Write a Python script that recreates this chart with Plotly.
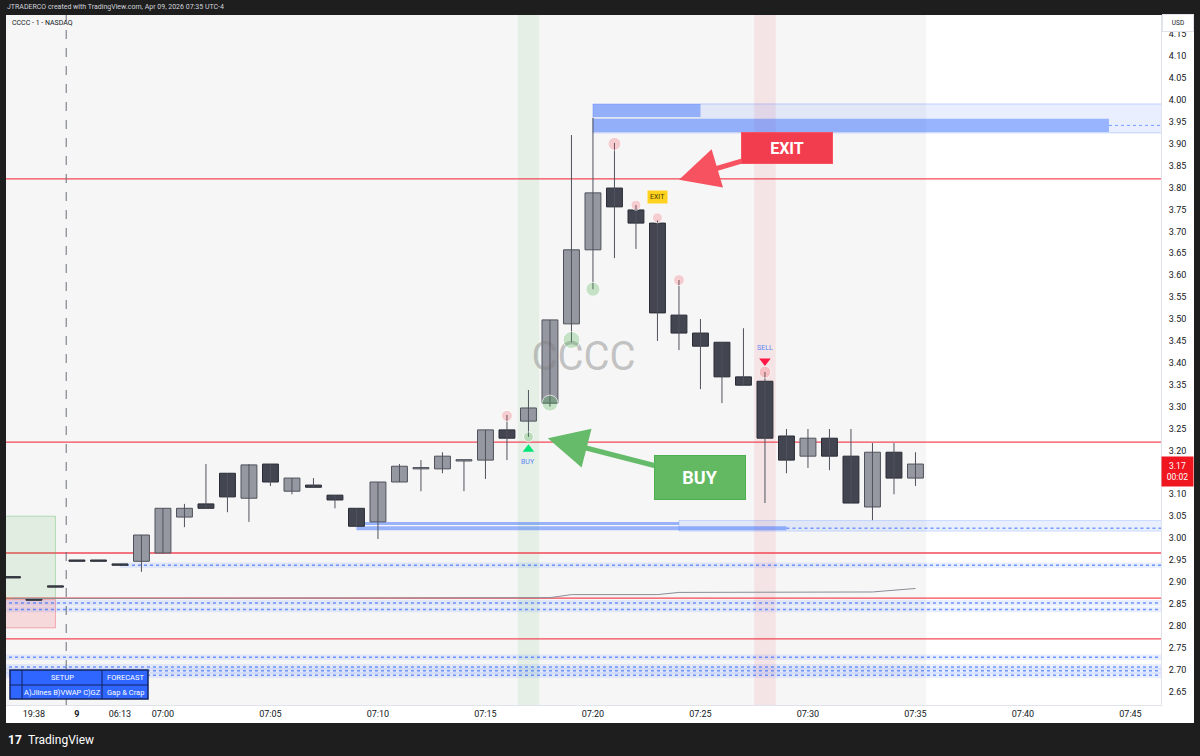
import plotly.graph_objects as go

# ---------------- data ----------------
bar_index = list(range(-7, 36))
opens = [2.909, 2.858, 2.888, 2.947, 2.947, 2.938, 2.947, 2.966, 3.048, 3.078, 3.148, 3.091, 3.169,
         3.107, 3.121, 3.098, 3.068, 3.037, 3.128, 3.158, 3.158, 3.176, 3.178, 3.247, 3.267, 3.308,
         3.489, 3.658, 3.799, 3.749, 3.719, 3.509, 3.468, 3.447, 3.368, 3.358, 3.233, 3.187, 3.228,
         3.187, 3.071, 3.196, 3.137]
highs = [2.909, 2.858, 2.888, 2.947, 2.947, 2.938, 3.007, 3.068, 3.078, 3.169, 3.148, 3.169, 3.169,
         3.137, 3.137, 3.098, 3.068, 3.128, 3.169, 3.178, 3.196, 3.176, 3.247, 3.281, 3.338, 3.498,
         3.920, 3.959, 3.902, 3.760, 3.725, 3.589, 3.500, 3.447, 3.479, 3.379, 3.249, 3.249, 3.249,
         3.249, 3.217, 3.217, 3.196]
lows = [2.909, 2.858, 2.888, 2.947, 2.947, 2.938, 2.923, 2.966, 3.025, 3.068, 3.059, 3.037, 3.119,
        3.100, 3.116, 3.068, 3.027, 2.998, 3.128, 3.107, 3.148, 3.107, 3.135, 3.178, 3.231, 3.300,
        3.447, 3.568, 3.639, 3.660, 3.450, 3.429, 3.340, 3.308, 3.349, 3.080, 3.148, 3.160, 3.155,
        3.080, 3.041, 3.100, 3.119]
closes = [2.909, 2.858, 2.888, 2.947, 2.947, 2.938, 3.007, 3.068, 3.068, 3.068, 3.094, 3.167, 3.128,
          3.137, 3.116, 3.087, 3.027, 3.128, 3.164, 3.158, 3.187, 3.176, 3.247, 3.228, 3.297, 3.498,
          3.658, 3.788, 3.756, 3.719, 3.514, 3.468, 3.438, 3.368, 3.349, 3.228, 3.178, 3.228, 3.187,
          3.080, 3.196, 3.137, 3.169]

tick_index = [-6, -4, -2, 0, 5, 10, 15, 20, 25, 30, 35, 40, 45]
tick_labels = ["19:38", "<b>9</b>", "06:13", "07:00", "07:05", "07:10", "07:15", "07:20",
               "07:25", "07:30", "07:35", "07:40", "07:45"]
price_ticks = [2.65, 2.70, 2.75, 2.80, 2.85, 2.90, 2.95, 3.00, 3.05, 3.10, 3.15, 3.20, 3.25, 3.30,
               3.35, 3.40, 3.45, 3.50, 3.55, 3.60, 3.65, 3.70, 3.75, 3.80, 3.85, 3.90, 3.95, 4.00,
               4.05, 4.10, 4.15]

pink_idx = [16, 21, 22, 23, 24, 28]
pink_price = [3.279, 3.900, 3.760, 3.731, 3.589, 3.379]
pink_size = [11, 13, 10, 10, 11, 12]
green_idx = [17, 18, 19, 20]
green_price = [3.231, 3.308, 3.452, 3.568]
green_size = [10, 16, 17, 14]

buy_idx, buy_price, buy_text_price = 17, 3.203, 3.174
sell_idx, sell_price, sell_text_price = 28, 3.404, 3.434
exit_idx, exit_price = 23, 3.779

red_levels = [3.820, 3.219, 2.966, 2.863, 2.770]
blue_levels = [2.938, 2.852, 2.837, 2.728, 2.706, 2.697, 2.687]
blue_start = [-2, -8, -8, -8, -8, -8, -8]

vwap_idx = [-7, 18, 19, 23, 24, 33, 35]
vwap_val = [2.862, 2.864, 2.871, 2.871, 2.876, 2.877, 2.885]

supply_outer = (20, 3.925, 3.991)
supply_bar1 = (20, 25, 3.961, 3.991)
supply_bar2 = (20, 44, 3.927, 3.957)
support_bar1 = (9, 24, 3.030, 3.037)
support_bar2 = (9, 29, 3.018, 3.027)
support_band = (3.016, 3.040)

left_green = (-5.0, 2.862, 3.050)
left_pink = (-5.0, 2.795, 2.860)

last_price = 3.17
session_end = 35.5
day_break = -4.5

# ---------------- geometry helpers ----------------
W, H = 1200, 756
PL, PR, PT, PB = 6, 1161, 15, 705
XR = [-7.30, 46.42]
YR = [2.619, 4.194]


def px(x):
    return (x - PL) / (PR - PL)


def py(y):
    return (PB - y) / (PB - PT)


FONT = "Roboto"
fig = go.Figure()

# watermark (behind candles)
fig.add_trace(go.Scatter(x=[(XR[0] + XR[1]) / 2], y=[(YR[0] + YR[1]) / 2], mode="text",
                         text=["CCCC"], textfont=dict(size=40, color="rgba(128,128,128,0.45)", family=FONT),
                         hoverinfo="skip"))

# vwap-like line
fig.add_trace(go.Scatter(x=vwap_idx, y=vwap_val, mode="lines",
                         line=dict(color="#8a8d96", width=1), hoverinfo="skip"))

# wicks
wx, wy = [], []
for i, h, l in zip(bar_index, highs, lows):
    if h > l:
        wx += [i, i, None]
        wy += [l, h, None]
fig.add_trace(go.Scatter(x=wx, y=wy, mode="lines", line=dict(color="#50535e", width=1), hoverinfo="skip"))

# bodies
base, height, fill, edge = [], [], [], []
for i, o, c in zip(bar_index, opens, closes):
    base.append(min(o, c))
    height.append(max(abs(c - o), 0.003))
    if c > o or (c == o and i >= -1):
        fill.append("#9598a1")
        edge.append("#4f525c")
    else:
        fill.append("#434651")
        edge.append("#2a2d36")
fig.add_trace(go.Bar(x=bar_index, y=height, base=base, width=0.74,
                     marker=dict(color=fill, line=dict(color=edge, width=1)), hoverinfo="skip"))

# pivot dots
fig.add_trace(go.Scatter(x=pink_idx, y=pink_price, mode="markers",
                         marker=dict(size=pink_size, color="rgba(242,54,69,0.3)"), hoverinfo="skip"))
fig.add_trace(go.Scatter(x=green_idx, y=green_price, mode="markers",
                         marker=dict(size=green_size, color="rgba(76,175,80,0.4)"), hoverinfo="skip"))

# buy / sell triangles
fig.add_trace(go.Scatter(x=[buy_idx], y=[buy_price], mode="markers",
                         marker=dict(symbol="triangle-up", size=10, color="#00e676"), hoverinfo="skip"))
fig.add_trace(go.Scatter(x=[sell_idx], y=[sell_price], mode="markers",
                         marker=dict(symbol="triangle-down", size=10, color="#ff1744"), hoverinfo="skip"))

shapes = []
# white panel
shapes.append(dict(type="rect", xref="paper", yref="paper", x0=px(6), x1=px(1194), y0=py(723), y1=py(15),
                   fillcolor="white", line=dict(width=0), layer="below"))
# session background
shapes.append(dict(type="rect", xref="x", yref="paper", x0=XR[0] - 1, x1=session_end, y0=0, y1=1,
                   fillcolor="#f6f6f6", line=dict(width=0), layer="below"))
# signal columns
shapes.append(dict(type="rect", xref="x", yref="paper", x0=buy_idx - 0.5, x1=buy_idx + 0.5, y0=0, y1=1,
                   fillcolor="rgba(76,175,80,0.09)", line=dict(width=0), layer="below"))
shapes.append(dict(type="rect", xref="x", yref="paper", x0=sell_idx - 0.5, x1=sell_idx + 0.5, y0=0, y1=1,
                   fillcolor="rgba(242,54,69,0.09)", line=dict(width=0), layer="below"))
# left boxes
shapes.append(dict(type="rect", xref="x", yref="y", x0=XR[0] - 1, x1=left_green[0], y0=left_green[1],
                   y1=left_green[2], fillcolor="rgba(76,175,80,0.13)",
                   line=dict(color="rgba(76,175,80,0.35)", width=1), layer="below"))
shapes.append(dict(type="rect", xref="x", yref="y", x0=XR[0] - 1, x1=left_pink[0], y0=left_pink[1],
                   y1=left_pink[2], fillcolor="rgba(242,54,69,0.15)",
                   line=dict(color="rgba(242,54,69,0.35)", width=1), layer="below"))
# blue levels
for lv, st in zip(blue_levels, blue_start):
    shapes.append(dict(type="rect", xref="x", yref="y", x0=st, x1=XR[1] + 1, y0=lv - 0.0065, y1=lv + 0.0065,
                       fillcolor="rgba(41,98,255,0.10)", line=dict(width=0), layer="below"))
    shapes.append(dict(type="line", xref="x", yref="y", x0=st, x1=XR[1] + 1, y0=lv, y1=lv,
                       line=dict(color="rgba(41,98,255,0.65)", width=1.5, dash="dot"), layer="below"))
# support zone near 3.03
shapes.append(dict(type="rect", xref="x", yref="y", x0=support_bar1[1], x1=XR[1] + 1,
                   y0=support_band[0], y1=support_band[1], fillcolor="rgba(41,98,255,0.10)",
                   line=dict(color="rgba(41,98,255,0.2)", width=1), layer="below"))
shapes.append(dict(type="line", xref="x", yref="y", x0=support_bar2[1], x1=XR[1] + 1,
                   y0=(support_bar2[2] + support_bar2[3]) / 2, y1=(support_bar2[2] + support_bar2[3]) / 2,
                   line=dict(color="rgba(41,98,255,0.6)", width=1.5, dash="dot"), layer="below"))
shapes.append(dict(type="rect", xref="x", yref="y", x0=support_bar1[0], x1=support_bar1[1],
                   y0=support_bar1[2], y1=support_bar1[3], fillcolor="rgba(41,98,255,0.45)",
                   line=dict(width=0), layer="below"))
shapes.append(dict(type="rect", xref="x", yref="y", x0=support_bar2[0], x1=support_bar2[1],
                   y0=support_bar2[2], y1=support_bar2[3], fillcolor="rgba(41,98,255,0.45)",
                   line=dict(width=0), layer="below"))
# supply zone near 3.95
shapes.append(dict(type="rect", xref="x", yref="y", x0=supply_outer[0], x1=XR[1] + 1,
                   y0=supply_outer[1], y1=supply_outer[2], fillcolor="rgba(41,98,255,0.10)",
                   line=dict(color="rgba(41,98,255,0.25)", width=1), layer="below"))
shapes.append(dict(type="rect", xref="x", yref="y", x0=supply_bar1[0], x1=supply_bar1[1],
                   y0=supply_bar1[2], y1=supply_bar1[3], fillcolor="rgba(41,98,255,0.42)",
                   line=dict(width=0), layer="below"))
shapes.append(dict(type="rect", xref="x", yref="y", x0=supply_bar2[0], x1=supply_bar2[1],
                   y0=supply_bar2[2], y1=supply_bar2[3], fillcolor="rgba(41,98,255,0.42)",
                   line=dict(width=0), layer="below"))
shapes.append(dict(type="line", xref="x", yref="y", x0=supply_bar2[1], x1=XR[1] + 1,
                   y0=(supply_bar2[2] + supply_bar2[3]) / 2, y1=(supply_bar2[2] + supply_bar2[3]) / 2,
                   line=dict(color="rgba(41,98,255,0.6)", width=1, dash="3px,3px"), layer="below"))
# red levels
for lv in red_levels:
    shapes.append(dict(type="line", xref="paper", yref="y", x0=0, x1=1, y0=lv, y1=lv,
                       line=dict(color="rgba(242,54,69,0.9)", width=1.3), layer="below"))
# day separator
shapes.append(dict(type="line", xref="x", yref="paper", x0=day_break, x1=day_break, y0=0, y1=1,
                   line=dict(color="#6a6d78", width=1, dash="dash"), layer="below"))

# table
tx = [10, 22, 102, 148]
ty = [670, 685, 699]
shapes.append(dict(type="rect", xref="paper", yref="paper", x0=px(tx[0]), x1=px(tx[3]), y0=py(ty[2]),
                   y1=py(ty[0]), fillcolor="#2f66ff", line=dict(color="#13235f", width=1.5), layer="above"))
for xx in tx[1:3]:
    shapes.append(dict(type="line", xref="paper", yref="paper", x0=px(xx), x1=px(xx), y0=py(ty[2]),
                       y1=py(ty[0]), line=dict(color="#13235f", width=1), layer="above"))
shapes.append(dict(type="line", xref="paper", yref="paper", x0=px(tx[0]), x1=px(tx[3]), y0=py(ty[1]),
                   y1=py(ty[1]), line=dict(color="#13235f", width=1), layer="above"))

annotations = []


def note(text, x, y, size, color, xanchor="center", **kw):
    annotations.append(dict(text=text, x=x, y=y, xref=kw.pop("xref", "paper"), yref=kw.pop("yref", "paper"),
                            showarrow=False, xanchor=xanchor, yanchor="middle",
                            font=dict(size=size, color=color, family=FONT), **kw))


# header texts
note("JTRADERCO created with TradingView.com, Apr 09, 2026 07:35 UTC-4", px(5), py(7), 7, "#d1d4dc", "left")
note("CCCC - 1 - NASDAQ", px(10), py(22.5), 7, "#131722", "left")
note("<b>17</b>", px(6), py(740), 12, "white", "left")
note("TradingView", px(26), py(740), 12, "white", "left")

# table text
note("SETUP", px(62), py(677.5), 7.5, "white")
note("FORECAST", px(125), py(677.5), 7.5, "white")
note("A)Jlines B)VWAP C)GZ", px(62), py(692), 7.5, "white")
note("Gap & Crap", px(125), py(692), 7.5, "white")

# signal labels
note("BUY", buy_idx, buy_text_price, 7, "#5c85f2", xref="x", yref="y")
note("SELL", sell_idx, sell_text_price, 7, "#5c85f2", xref="x", yref="y")
annotations.append(dict(text="EXIT", x=exit_idx, y=exit_price, xref="x", yref="y", showarrow=False,
                        xanchor="center", yanchor="middle",
                        font=dict(size=7, color="#4a3d00", family=FONT), bgcolor="#ffd21f", borderpad=2))

# big arrows
annotations.append(dict(text="<b>EXIT</b>", x=24.0, y=3.818, xref="x", yref="y", showarrow=True,
                        ax=108, ay=-32, width=88, height=28, bgcolor="#f23d4f", bordercolor="#f7525f",
                        borderwidth=1, font=dict(size=16, color="white", family=FONT),
                        arrowcolor="#f7525f", arrowwidth=5, arrowhead=2, arrowsize=1.6, standoff=0))
annotations.append(dict(text="<b>BUY</b>", x=17.9, y=3.228, xref="x", yref="y", showarrow=True,
                        ax=152, ay=39, width=88, height=41, bgcolor="#62b962", bordercolor="#4caf50",
                        borderwidth=1, font=dict(size=18, color="white", family=FONT),
                        arrowcolor="#66bb6a", arrowwidth=5, arrowhead=2, arrowsize=1.6, standoff=0))

# price axis extras
annotations.append(dict(text="3.17<br>00:02", x=px(1177.5), y=3.152, xref="paper", yref="y",
                        xanchor="center", yanchor="middle",
                        showarrow=False, width=29, height=27, bgcolor="#f01620",
                        font=dict(size=8.5, color="white", family=FONT)))
annotations.append(dict(text="USD", x=px(1178), y=py(23.5), xref="paper", yref="paper", showarrow=False,
                        xanchor="center", yanchor="middle",
                        width=28, height=14, bgcolor="white", bordercolor="#e0e3eb", borderwidth=1,
                        font=dict(size=6.5, color="#131722", family=FONT)))

# the 3.15 label sits under the live price tag
price_text = ["" if abs(v - 3.15) < 1e-9 else f"{v:.2f}" for v in price_ticks]

fig.update_layout(
    width=W, height=H, autosize=False,
    margin=dict(l=PL, r=W - PR, t=PT, b=H - PB),
    paper_bgcolor="#1e1e1e", plot_bgcolor="white",
    showlegend=False, hovermode=False, barmode="overlay",
    shapes=shapes, annotations=annotations,
    font=dict(family=FONT, color="#131722"),
    xaxis=dict(range=XR, showgrid=False, zeroline=False, tickvals=tick_index, ticktext=tick_labels,
               tickfont=dict(size=9, color="#131722"), showline=True, linecolor="#e0e3eb", ticks="",
               fixedrange=True),
    yaxis=dict(range=YR, side="right", showgrid=False, zeroline=False, tickvals=price_ticks,
               ticktext=price_text, tickfont=dict(size=9, color="#131722"),
               showline=True, linecolor="#e0e3eb", ticks="", ticklabelstandoff=5, fixedrange=True),
)

fig.write_html("out.html", config={"displayModeBar": False},
               post_script="document.body.style.margin='0';document.body.style.overflow='hidden';"
                           "document.body.style.background='#1e1e1e';")
